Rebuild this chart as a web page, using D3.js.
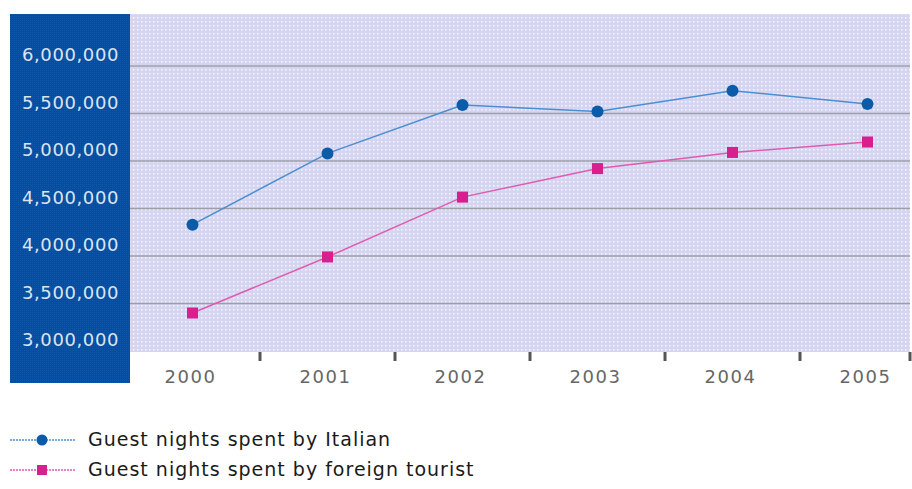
<!DOCTYPE html>
<html>
<head>
<meta charset="utf-8">
<script src="https://cdn.jsdelivr.net/npm/d3@7"></script>
<style>
  body { margin: 0; background: #fff; }
  svg { display: block; }
</style>
</head>
<body>
<svg id="chart" width="912" height="489"></svg>
<script>
// values
const years = ["2000", "2001", "2002", "2003", "2004", "2005"];
const italian = [4330000, 5080000, 5590000, 5520000, 5740000, 5600000];
const foreign = [3400000, 3990000, 4620000, 4920000, 5090000, 5200000];
const yTicks = [3000000, 3500000, 4000000, 4500000, 5000000, 5500000, 6000000];
const seriesNames = ["Guest nights spent by Italian", "Guest nights spent by foreign tourist"];

const svg = d3.select("#chart");
const defs = svg.append("defs");

// dotted lavender fill of the plot
const dots = defs.append("pattern")
  .attr("id", "dots").attr("width", 4).attr("height", 4)
  .attr("patternUnits", "userSpaceOnUse");
dots.append("rect").attr("width", 4).attr("height", 4).attr("fill", "#d5d5f2");
dots.append("rect").attr("x", 1).attr("y", 1).attr("width", 1.5).attr("height", 1.5).attr("fill", "#f6f8fc");

// checkered blue of the left panel
const chk = defs.append("pattern")
  .attr("id", "chk").attr("width", 2).attr("height", 2)
  .attr("patternUnits", "userSpaceOnUse");
chk.append("rect").attr("width", 2).attr("height", 2).attr("fill", "#084c9e");
chk.append("rect").attr("width", 1).attr("height", 1).attr("fill", "#0d58aa");

const plot = { left: 130, right: 910, top: 14, bottom: 352 };

const x = d3.scaleBand().domain(years).range([125, 935]);
const y = d3.scaleLinear().domain([3000000, 6000000]).range([351, 66]);

// panels
svg.append("rect")
  .attr("x", 10).attr("y", 14).attr("width", 120).attr("height", 369)
  .attr("fill", "url(#chk)");
svg.append("rect")
  .attr("x", plot.left).attr("y", plot.top)
  .attr("width", plot.right - plot.left).attr("height", plot.bottom - plot.top)
  .attr("fill", "url(#dots)");

// gridlines
svg.append("g")
  .selectAll("line")
  .data(yTicks.filter(d => d > 3000000))
  .join("line")
  .attr("x1", plot.left).attr("x2", plot.right)
  .attr("y1", d => y(d)).attr("y2", d => y(d))
  .attr("stroke", "#9e9eaa").attr("stroke-width", 1.6);

// y labels
const fmt = d3.format(",");
svg.append("g")
  .selectAll("text")
  .data(yTicks)
  .join("text")
  .attr("x", 119).attr("y", d => y(d) - 10)
  .attr("text-anchor", "end").attr("dominant-baseline", "middle")
  .attr("font-family", "DejaVu Sans").attr("font-size", 18)
  .attr("letter-spacing", 0.6)
  .attr("fill", "#dde4ef")
  .text(d => fmt(d));

// x ticks at band boundaries
svg.append("g")
  .selectAll("line")
  .data(years.slice(1))
  .join("line")
  .attr("x1", d => x(d)).attr("x2", d => x(d))
  .attr("y1", plot.bottom).attr("y2", 361)
  .attr("stroke", "#555").attr("stroke-width", 3);
svg.append("line")
  .attr("x1", plot.right).attr("x2", plot.right)
  .attr("y1", plot.bottom).attr("y2", 361)
  .attr("stroke", "#555").attr("stroke-width", 3);

svg.append("g")
  .selectAll("text")
  .data(years)
  .join("text")
  .attr("x", d => x(d) + x.bandwidth() / 2 - 2)
  .attr("y", 378)
  .attr("text-anchor", "middle").attr("dominant-baseline", "middle")
  .attr("font-family", "DejaVu Sans").attr("font-size", 18)
  .attr("letter-spacing", 1.5)
  .attr("fill", "#666")
  .text(d => d);

// series
const cx = d => x(d) + x.bandwidth() / 2;
const line = d3.line().x((d, i) => cx(years[i])).y(d => y(d));

svg.append("path").datum(italian)
  .attr("d", line).attr("fill", "none")
  .attr("stroke", "#4a8fd0").attr("stroke-width", 1.5);
svg.append("path").datum(foreign)
  .attr("d", line).attr("fill", "none")
  .attr("stroke", "#e05aaf").attr("stroke-width", 1.5);

svg.append("g").selectAll("circle")
  .data(italian).join("circle")
  .attr("cx", (d, i) => cx(years[i])).attr("cy", d => y(d))
  .attr("r", 6).attr("fill", "#0b5ba8");

svg.append("g").selectAll("rect")
  .data(foreign).join("rect")
  .attr("x", (d, i) => cx(years[i]) - 5.5).attr("y", d => y(d) - 5.5)
  .attr("width", 11).attr("height", 11).attr("fill", "#d81f8e");

// legend
const legend = svg.append("g");
const legendRows = [
  { name: seriesNames[0], line: "#4a8fd0", mark: "#0b5ba8", shape: "circle", y: 440 },
  { name: seriesNames[1], line: "#e05aaf", mark: "#d81f8e", shape: "square", y: 470 }
];
legendRows.forEach(r => {
  legend.append("line")
    .attr("x1", 10).attr("x2", 76).attr("y1", r.y).attr("y2", r.y)
    .attr("stroke", r.line).attr("stroke-width", 1.5)
    .attr("stroke-dasharray", "2,1");
  if (r.shape === "circle") {
    legend.append("circle").attr("cx", 42).attr("cy", r.y).attr("r", 5.5).attr("fill", r.mark);
  } else {
    legend.append("rect").attr("x", 37).attr("y", r.y - 5).attr("width", 10).attr("height", 10).attr("fill", r.mark);
  }
  legend.append("text")
    .attr("x", 88).attr("y", r.y)
    .attr("dominant-baseline", "middle")
    .attr("font-family", "DejaVu Sans").attr("font-size", 19)
    .attr("letter-spacing", 1)
    .attr("fill", "#1a1a1a")
    .text(r.name);
});
</script>
</body>
</html>
